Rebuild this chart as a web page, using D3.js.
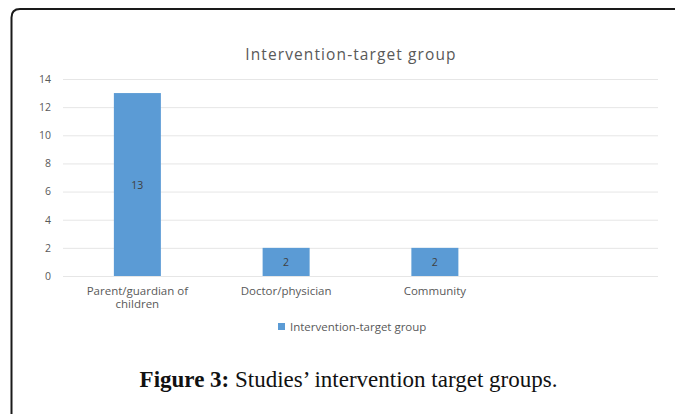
<!DOCTYPE html>
<html>
<head>
<meta charset="utf-8">
<script src="https://cdn.jsdelivr.net/npm/d3@7"></script>
<style>
  html, body { margin: 0; padding: 0; background: #fff; }
  svg { display: block; }
</style>
</head>
<body>
<script>
// Intervention-target group counts
const categories = ["Parent/guardian of children", "Doctor/physician", "Community", ""];
const values = [13, 2, 2, null];
const yTicks = [0, 2, 4, 6, 8, 10, 12, 14];
const chartTitle = "Intervention-target group";
const seriesName = "Intervention-target group";

const W = 675, H = 414;
const svg = d3.select("body").append("svg").attr("width", W).attr("height", H);

// Frame around the figure (extends past the right and bottom edges)
svg.append("path")
  .attr("d", "M11.5,420 L11.5,17.5 Q11.5,9 20,9 L690,9")
  .attr("fill", "none").attr("stroke", "#1a1a1a").attr("stroke-width", 2);

const plot = { left: 63, right: 658, top: 79, bottom: 276 };

const x = d3.scaleBand().domain(categories).range([plot.left, plot.right]).padding(0);
const y = d3.scaleLinear().domain([0, 14]).range([plot.bottom, plot.top]);
const barW = x.bandwidth() * 0.316;

const sans = "'Open Sans', sans-serif";
const grey = "#595959";

// Title
svg.append("text")
  .attr("x", 351).attr("y", 59.5)
  .attr("text-anchor", "middle")
  .attr("font-family", sans).attr("font-size", 15.5)
  .attr("letter-spacing", 1.1)
  .attr("fill", grey)
  .text(chartTitle);

// Gridlines + y labels via axis
const yAxis = svg.append("g")
  .attr("transform", `translate(${plot.left},0)`)
  .call(d3.axisLeft(y).tickValues(yTicks).tickSize(-(plot.right - plot.left)).tickPadding(12).tickFormat(d3.format("d")));
yAxis.select(".domain").remove();
yAxis.selectAll(".tick line").attr("stroke", "#e6e6e6").attr("stroke-width", 1);
yAxis.selectAll(".tick text")
  .attr("font-family", sans).attr("font-size", 10.5).attr("fill", grey);

// Bars
const data = categories.map((c, i) => ({ c, v: values[i] })).filter(d => d.v != null);
svg.selectAll("rect.bar").data(data).enter().append("rect")
  .attr("class", "bar")
  .attr("x", d => x(d.c) + x.bandwidth() / 2 - barW / 2)
  .attr("width", barW)
  .attr("y", d => y(d.v))
  .attr("height", d => y(0) - y(d.v))
  .attr("fill", "#5b9bd5");

// Value labels centred in bars
svg.selectAll("text.val").data(data).enter().append("text")
  .attr("class", "val")
  .attr("x", d => x(d.c) + x.bandwidth() / 2)
  .attr("y", d => (y(d.v) + y(0)) / 2 + 4)
  .attr("text-anchor", "middle")
  .attr("font-family", sans).attr("font-size", 10.5)
  .attr("fill", "#404040")
  .text(d => d.v);

// Category labels (wrapped like the original)
const catLines = {
  "Parent/guardian of children": ["Parent/guardian of", "children"],
  "Doctor/physician": ["Doctor/physician"],
  "Community": ["Community"]
};
categories.filter(c => c).forEach(c => {
  const t = svg.append("text")
    .attr("text-anchor", "middle")
    .attr("font-family", sans).attr("font-size", 11.5)
    .attr("fill", grey);
  catLines[c].forEach((line, i) => {
    t.append("tspan")
      .attr("x", x(c) + x.bandwidth() / 2)
      .attr("y", 294.5 + i * 13.5)
      .text(line);
  });
});

// Legend
svg.append("rect").attr("x", 278).attr("y", 323).attr("width", 7).attr("height", 7).attr("fill", "#5b9bd5");
svg.append("text")
  .attr("x", 290).attr("y", 331)
  .attr("font-family", sans).attr("font-size", 11.5)
  .attr("fill", grey)
  .text(seriesName);

// Caption
const cap = svg.append("text")
  .attr("x", 348.5).attr("y", 387)
  .attr("text-anchor", "middle")
  .attr("font-family", "'Liberation Serif', serif").attr("font-size", 23)
  .attr("fill", "#111");
cap.append("tspan").attr("font-weight", "bold").text("Figure 3:");
cap.append("tspan").text(" Studies\u2019 intervention target groups.");
</script>
</body>
</html>
